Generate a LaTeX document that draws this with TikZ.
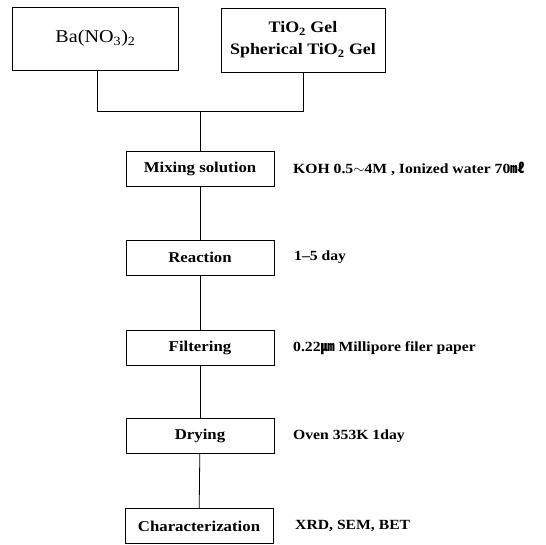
\documentclass[tikz,border=0pt]{standalone}
\usepackage{fontspec}
\setmainfont{Liberation Serif}[FakeStretch=1.12]
\newfontfamily\cjk{Noto Sans CJK KR}

\begin{document}
\begin{tikzpicture}[x=1pt,y=-1pt,
  box/.style={draw,line width=.6pt,minimum width=148pt,minimum height=35pt,inner sep=0pt,
    font=\fontsize{15}{18}\selectfont\bfseries},
  note/.style={anchor=west,inner sep=0pt,font=\fontsize{14}{17}\selectfont\bfseries},
  link/.style={line width=.8pt}]
\path[fill=white,use as bounding box] (0,0) rectangle (546,545);
\node[box,minimum width=166pt,minimum height=63pt,font=\fontsize{18}{22}\selectfont] (ba) at (95.5,38.5) {Ba(NO\textsubscript{3})\textsubscript{2}};
\node[box,minimum width=164pt,minimum height=64pt,align=center,font=\fontsize{16}{22}\selectfont\bfseries] (tio) at (303,40) {TiO\textsubscript{2} Gel\\Spherical TiO\textsubscript{2} Gel};
\coordinate (jn) at (200,111);
\node[box] (mix) at (200,168.5) {Mixing solution};
\node[box] (rea) at (200,257.5) {Reaction};
\node[box] (fil) at (200,348) {Filtering};
\node[box] (dry) at (200,436) {Drying};
\node[box] (cha) at (199,526) {Characterization};
\node[note] (mixn) at (293,168.5) {KOH 0.5$\sim$4M , Ionized water 70{\cjk ㎖}};
\node[note] (rean) at (294,257.5) {1--5 day};
\node[note] (filn) at (293,348) {0.22{\cjk ㎛} Millipore filer paper};
\node[note] (dryn) at (293,436) {Oven 353K 1day};
\node[note] (chan) at (295,526) {XRD, SEM, BET};
\draw[link] ([xshift=2pt]ba.south) |- (jn);
\draw[link] (tio.south) |- (jn);
\draw[link] (jn) -- (mix.north);
\draw[link] (mix) -- (rea);
\draw[link] (rea) -- (fil);
\draw[link] (fil) -- (dry);
\draw[link] (dry) -- (cha);
\end{tikzpicture}
\end{document}
